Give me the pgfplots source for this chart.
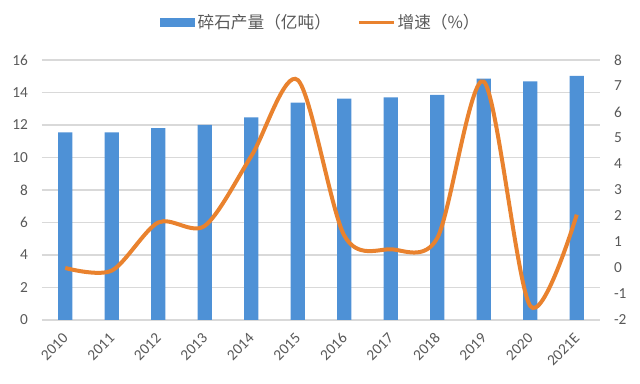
\documentclass[border=0pt]{standalone}
\usepackage{pgfplots}
\pgfplotsset{compat=1.18}
\usepackage{fontspec}
\setmainfont{Carlito}
\newfontfamily\cjk{Noto Sans CJK SC}
\definecolor{barblue}{HTML}{4E91D6}
\definecolor{lineorange}{HTML}{E9822E}
\definecolor{gridgray}{HTML}{D9D9D9}
\definecolor{textgray}{HTML}{595959}
\pgfplotsset{
  barleg/.style={legend image code/.code={\fill[barblue] (0pt,-3pt) rectangle (26pt,3pt);}},
  lineleg/.style={legend image code/.code={\draw[lineorange, line width=2pt] (0pt,0pt) -- (26pt,0pt);}},
}
\begin{document}
\begin{tikzpicture}
\useasboundingbox (-31.5pt,-48pt) rectangle (448.5pt,240pt);
\begin{axis}[
  scale only axis, width=418.5pt, height=195pt,
  xmin=-0.5, xmax=11.5, ymin=0, ymax=16,
  xtick={0,...,11},
  xticklabels={2010,2011,2012,2013,2014,2015,2016,2017,2018,2019,2020,2021E},
  ytick={0,2,...,16},
  ymajorgrids, grid style={gridgray, line width=0.8pt},
  axis line style={draw=none},
  major tick length=0pt,
  tick label style={font=\fontsize{11.5}{13}\selectfont, text=textgray},
  /pgf/number format/assume math mode=true,
  xticklabel style={xshift=1pt, yshift=-11pt, rotate=45, anchor=east, inner sep=1pt},
  yticklabel style={xshift=-7pt},
]
\addplot[ybar, bar width=10.7pt, fill=barblue, draw=none] coordinates {
  (0,11.55) (1,11.55) (2,11.8) (3,12.0) (4,12.47) (5,13.37)
  (6,13.62) (7,13.7) (8,13.86) (9,14.85) (10,14.69) (11,15.02)};
\end{axis}
\begin{axis}[
  scale only axis, width=418.5pt, height=195pt,
  xmin=-0.5, xmax=11.5, ymin=-2, ymax=8,
  ytick={-2,-1,...,8},
  axis y line*=right, axis x line=none,
  axis line style={draw=none},
  major tick length=0pt,
  tick label style={font=\fontsize{11.5}{13}\selectfont, text=textgray},
  /pgf/number format/assume math mode=true,
  yticklabel style={xshift=7pt},
  legend style={at={(0.5,1)}, anchor=south, yshift=18pt, draw=none, fill=none,
    legend columns=2, font=\cjk\fontsize{12.5}{14}\selectfont, text=textgray,
    /tikz/every even column/.append style={column sep=18pt}},
]
\addlegendimage{barleg}
\addlegendentry{碎石产量（亿吨）}
\addplot[lineorange, line width=3pt, smooth, tension=0.5, lineleg] coordinates {
  (0,0) (1,-0.1) (2,1.75) (3,1.62) (4,4.3) (5,7.23)
  (6,1.25) (7,0.72) (8,1.15) (9,7.17) (10,-1.46) (11,2.05)};
\addlegendentry{增速（\%）}
\end{axis}
\end{tikzpicture}
\end{document}
